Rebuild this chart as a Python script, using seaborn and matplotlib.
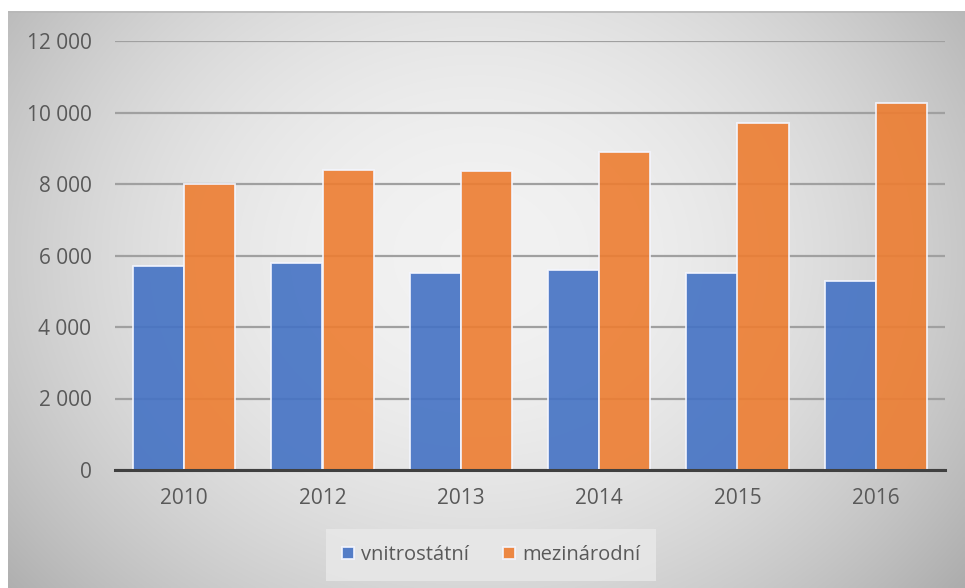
import numpy as np
import pandas as pd
import matplotlib
matplotlib.use("Agg")
import matplotlib.pyplot as plt
import seaborn as sns

# Data
years = ["2010", "2012", "2013", "2014", "2015", "2016"]
domestic = [5700, 5800, 5500, 5600, 5500, 5300]          # vnitrostátní
international = [8000, 8400, 8370, 8900, 9700, 10270]    # mezinárodní
series_names = ["vnitrostátní", "mezinárodní"]
y_ticks = [0, 2000, 4000, 6000, 8000, 10000, 12000]

df = pd.DataFrame({
    "rok": years * 2,
    "hodnota": domestic + international,
    "typ": [series_names[0]] * len(years) + [series_names[1]] * len(years),
})

sns.set_theme(style="white")
plt.rcParams["font.family"] = ["Open Sans", "DejaVu Sans"]

W, H = 965, 588
fig = plt.figure(figsize=(W / 100, H / 100), dpi=100)
fig.patch.set_facecolor("white")

# Soft gray gradient panel behind the chart
bg = fig.add_axes([8 / W, 0, 1 - 8 / W, 1 - 11 / H], zorder=-5)
gx = np.linspace(-1, 1, 400)
gy = np.linspace(-1, 1, 300)
X, Y = np.meshgrid(gx, gy)
R2 = ((X + 0.02) / 1.0) ** 2 + ((Y + 0.15) / 1.4) ** 2
val = np.clip(0.95 - 0.16 * R2, 0, 1)
bg.imshow(np.dstack([val, val, val]), aspect="auto", extent=[0, 1, 0, 1],
          interpolation="bilinear")
bg.plot([0, 1], [0.998, 0.998], color="#b8b8b8", lw=1.2, transform=bg.transAxes)
bg.set_axis_off()

ax = fig.add_axes([115 / W, 1 - 470 / H, (945 - 115) / W, (470 - 41) / H])
ax.set_facecolor("none")

sns.barplot(data=df, x="rok", y="hodnota", hue="typ", ax=ax,
            palette=["#4472C4", "#ED7D31"], width=0.74, alpha=0.9,
            edgecolor="#f4f6ff", linewidth=1.3, saturation=1, zorder=3)

ax.set_ylim(0, 12000)
ax.set_yticks(y_ticks)
ax.set_yticklabels([f"{v:,}".replace(",", " ") for v in y_ticks])
ax.set_xlim(-0.5, len(years) - 0.5)
ax.yaxis.grid(True, color="#a0a0a0", lw=1.6, zorder=2)
ax.set_axisbelow(False)
for g in ax.get_ygridlines():
    g.set_zorder(2)
ax.set_xlabel("")
ax.set_ylabel("")
for s in ["top", "right", "left"]:
    ax.spines[s].set_visible(False)
ax.spines["bottom"].set_color("#404040")
ax.spines["bottom"].set_linewidth(2.2)
ax.spines["bottom"].set_zorder(5)
ax.tick_params(axis="y", length=0, pad=17, labelsize=15, labelcolor="#595959")
ax.tick_params(axis="x", length=0, pad=13, labelsize=15, labelcolor="#595959")

handles, labels = ax.get_legend_handles_labels()
ax.legend_.remove()
leg = fig.legend(handles, labels, loc="center", bbox_to_anchor=(491 / W, 1 - 555 / H),
                 ncol=2, frameon=True, fontsize=14.5, handlelength=0.6,
                 handleheight=0.6, handletextpad=0.35, columnspacing=1.7,
                 borderpad=0.5)
leg.get_frame().set_facecolor("#e8e8e8")
leg.get_frame().set_edgecolor("none")
leg.get_frame().set_alpha(0.85)
leg.get_frame().set_boxstyle("square", pad=0.3)
for t in leg.get_texts():
    t.set_color("#595959")

fig.savefig("out.png", dpi=100)
